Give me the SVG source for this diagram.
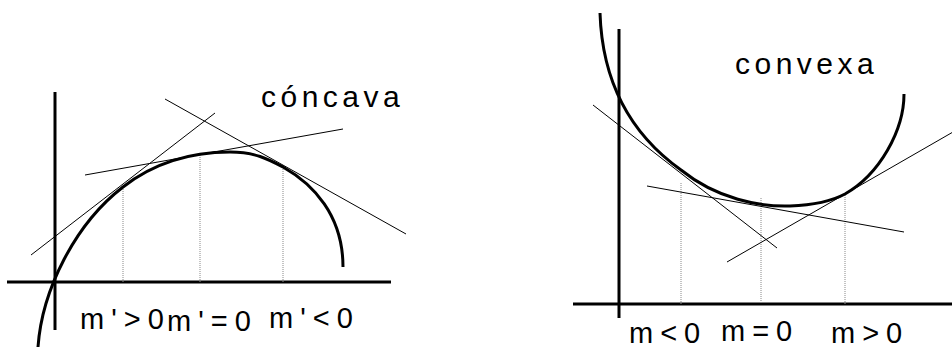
<svg xmlns="http://www.w3.org/2000/svg" width="952" height="349" viewBox="0 0 952 349">
<style>
.axis{stroke:#000;stroke-width:3;fill:none}
.curve{stroke:#000;stroke-width:3;fill:none}
.tan{stroke:#000;stroke-width:1;fill:none}
.dot{stroke:#888;stroke-width:1;stroke-dasharray:1,1;fill:none}
.lbl{font-family:"Liberation Sans",Arial,sans-serif;font-size:29px;fill:#000;letter-spacing:7px}
.ttl{font-family:"Liberation Sans",Arial,sans-serif;font-size:30px;fill:#000;letter-spacing:4.5px}
</style>
<rect width="952" height="349" fill="#fff"/>
<g id="concava">
<g id="concava-axes">
<line class="axis" x1="55" y1="92" x2="55" y2="330"/>
<line class="axis" x1="7" y1="282" x2="391" y2="282"/>
</g>
<g id="concava-dotted">
<line class="dot" x1="123" y1="187" x2="123" y2="282"/>
<line class="dot" x1="200" y1="155" x2="200" y2="282"/>
<line class="dot" x1="283" y1="167" x2="283" y2="282"/>
</g>
<g id="concava-tangents">
<line class="tan" x1="31" y1="255" x2="215" y2="113"/>
<line class="tan" x1="85" y1="175" x2="343" y2="129"/>
<line class="tan" x1="165" y1="99" x2="406" y2="234"/>
</g>
<path id="concava-curve" class="curve" d="M38,347 C42,290 75,224 123,187 C155,162 190,152 230,152 C255,152 268,159 283,167 C313,184 343,215 343,267"/>
<text class="ttl" x="261" y="107">cóncava</text>
<text class="lbl" x="80" y="329">m'&gt;0</text>
<text class="lbl" x="167" y="331">m'=0</text>
<text class="lbl" x="269" y="328">m'&lt;0</text>
</g>
<g id="convexa">
<g id="convexa-axes">
<line class="axis" x1="619" y1="29" x2="619" y2="318"/>
<line class="axis" x1="573" y1="304" x2="952" y2="304"/>
</g>
<g id="convexa-dotted">
<line class="dot" x1="681" y1="183" x2="681" y2="304"/>
<line class="dot" x1="761" y1="198" x2="761" y2="304"/>
<line class="dot" x1="845" y1="193" x2="845" y2="304"/>
</g>
<g id="convexa-tangents">
<line class="tan" x1="593" y1="105" x2="777" y2="248"/>
<line class="tan" x1="647" y1="186" x2="904" y2="232"/>
<line class="tan" x1="727" y1="262" x2="953" y2="132"/>
</g>
<path id="convexa-curve" class="curve" d="M600,13 C602,75 625,130 681,170 C717,199 760,207 790,206 C815,205 832,201 845,194 C880,174 904,130 904,94"/>
<text class="ttl" x="735" y="74">convexa</text>
<text class="lbl" x="629" y="343">m&lt;0</text>
<text class="lbl" x="721" y="341">m=0</text>
<text class="lbl" x="831" y="343">m&gt;0</text>
</g>
</svg>
